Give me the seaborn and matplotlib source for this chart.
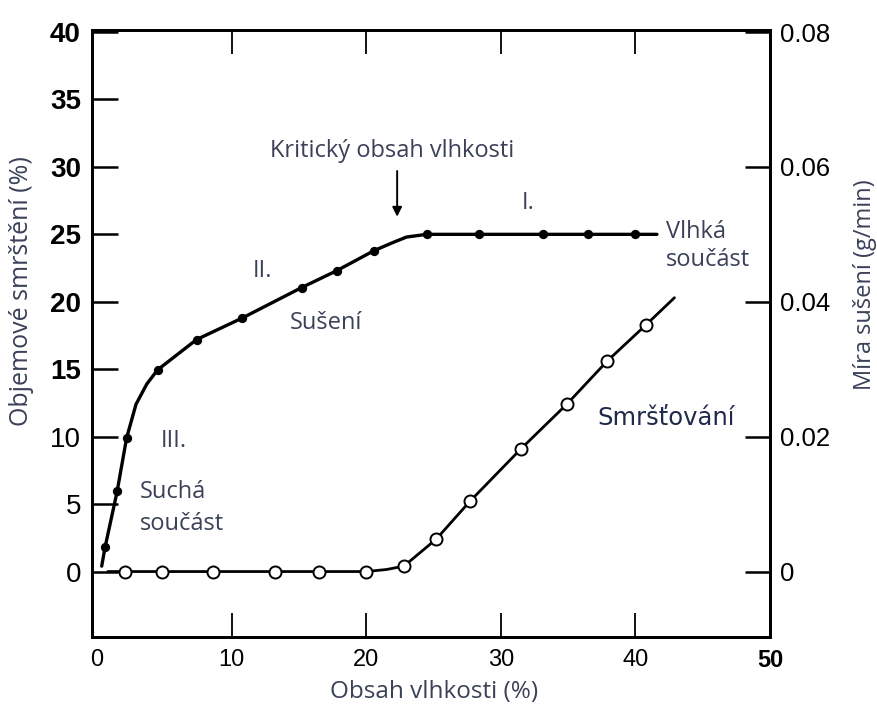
import matplotlib
matplotlib.use("Agg")
import matplotlib.pyplot as plt
import seaborn as sns
import pandas as pd

# ---- data ----
# drying rate (g/min) vs moisture content (%), filled markers
dry_x = [0.6, 1.5, 2.2, 4.5, 7.4, 10.8, 15.2, 17.8, 20.6, 24.5, 28.4, 33.1, 36.5, 40.0]
dry_rate = [0.0036, 0.0119, 0.0198, 0.0299, 0.0344, 0.0376, 0.0421, 0.0446, 0.0476, 0.0500, 0.0500, 0.0500, 0.0500, 0.0500]
# traced path of the drying-rate curve (g/min)
dry_curve_x = [0.35, 0.6, 1.5, 2.2, 2.9, 3.7, 4.5, 7.4, 10.8, 15.2, 17.8, 20.6, 22.0, 23.0, 24.5, 28.4, 33.1, 36.5, 40.0, 41.6]
dry_curve_y = [0.0008, 0.0036, 0.0119, 0.0198, 0.0248, 0.0278, 0.0299, 0.0344, 0.0376, 0.0421, 0.0446, 0.0476, 0.0488, 0.0496, 0.0500, 0.0500, 0.0500, 0.0500, 0.0500, 0.0500]

# volume shrinkage (%) vs moisture content (%), open markers
shr_x = [2.1, 4.8, 8.6, 13.2, 16.5, 20.0, 22.8, 25.2, 27.7, 31.5, 34.9, 37.9, 40.8]
shr_y = [0.0, 0.0, 0.0, 0.0, 0.0, 0.0, 0.4, 2.4, 5.2, 9.1, 12.4, 15.6, 18.3]
shr_curve_x = [0.8, 2.1, 4.8, 8.6, 13.2, 16.5, 20.0, 21.5, 22.8, 25.2, 27.7, 31.5, 34.9, 37.9, 40.8, 42.9]
shr_curve_y = [0.0, 0.0, 0.0, 0.0, 0.0, 0.0, 0.0, 0.15, 0.4, 2.4, 5.2, 9.1, 12.4, 15.6, 18.3, 20.3]

left_ticks = [0, 5, 10, 15, 20, 25, 30, 35, 40]
left_labels = ["0", "5", "10", "15", "20", "25", "30", "35", "40"]
right_ticks = [0, 0.02, 0.04, 0.06, 0.08]
right_labels = ["0", "0.02", "0.04", "0.06", "0.08"]
x_ticks = [0, 10, 20, 30, 40, 50]
x_labels = ["0", "10", "20", "30", "40", "50"]

TXT = "#3a4158"
ANN = 17

sns.set_theme(style="white")
plt.rcParams["font.family"] = ["Liberation Sans", "DejaVu Sans"]

fig = plt.figure(figsize=(8.77, 7.09), dpi=100)
ax = fig.add_axes([0.1049, 0.1016, 0.7731, 0.8561])
ax2 = ax.twinx()

YMIN, YMAX = -4.85, 40.15
ax.set_xlim(-0.37, 49.9)
ax.set_ylim(YMIN, YMAX)
ax2.set_ylim(YMIN / 500, YMAX / 500)

# shrinkage curve (left axis)
shr_line = pd.DataFrame({"x": shr_curve_x, "y": shr_curve_y})
shr_pts = pd.DataFrame({"x": shr_x, "y": shr_y})
sns.lineplot(data=shr_line, x="x", y="y", ax=ax, color="black", lw=2.0, sort=False, zorder=3)
sns.scatterplot(data=shr_pts, x="x", y="y", ax=ax, s=75, facecolor="white",
                edgecolor="black", linewidth=1.4, zorder=4)

# drying-rate curve (right axis)
dry_line = pd.DataFrame({"x": dry_curve_x, "y": dry_curve_y})
dry_pts = pd.DataFrame({"x": dry_x, "y": dry_rate})
sns.lineplot(data=dry_line, x="x", y="y", ax=ax2, color="black", lw=2.4, sort=False, zorder=3)
sns.scatterplot(data=dry_pts, x="x", y="y", ax=ax2, s=45, color="black",
                edgecolor="black", linewidth=0, zorder=4)

ax.set_xlabel("")
ax.set_ylabel("")
ax2.set_ylabel("")

for a in (ax, ax2):
    for s in a.spines.values():
        s.set_color("black")
        s.set_linewidth(2.0)
    a.grid(False)

ax.set_xticks(x_ticks)
ax.set_xticklabels(x_labels)
ax.set_yticks(left_ticks)
ax.set_yticklabels(left_labels)
ax.tick_params(axis="x", direction="in", length=17, width=1.3, top=True, bottom=True,
               labelsize=17, pad=9, colors="black")
ax.tick_params(axis="y", direction="in", length=19, width=1.8, left=True, right=False,
               labelsize=20, pad=8, colors="black")
ax2.set_yticks(right_ticks)
ax2.set_yticklabels(right_labels)
ax2.tick_params(axis="y", direction="in", length=18, width=1.8, right=True, left=False,
                labelsize=18.5, pad=7, colors="black")

# the x = 0 and x = 50 positions sit on the frame: no tick marks there
for t in (ax.xaxis.get_major_ticks()[0], ax.xaxis.get_major_ticks()[-1]):
    t.tick1line.set_visible(False)
    t.tick2line.set_visible(False)

for lab in ax.get_yticklabels():
    if lab.get_text() in ("15", "20", "25", "30", "35", "40"):
        lab.set_fontweight("bold")
for lab in ax.get_xticklabels():
    if lab.get_text() == "50":
        lab.set_fontweight("bold")

fig.text(0.495, 0.024, "Obsah vlhkosti (%)", ha="center", va="center",
         fontsize=17.5, color=TXT, family="Open Sans")
fig.text(0.024, 0.59, "Objemové smrštění (%)", ha="center", va="center",
         rotation=90, fontsize=18, color=TXT, family="Open Sans")
fig.text(0.986, 0.598, "Míra sušení (g/min)", ha="center", va="center",
         rotation=90, fontsize=17, color=TXT, family="Open Sans")

# annotations
ax.annotate("", xy=(22.3, 26.1), xytext=(22.3, 29.9),
            arrowprops=dict(arrowstyle="-|>", color="black", lw=1.4, mutation_scale=14))
ax.text(21.9, 31.2, "Kritický obsah vlhkosti", ha="center", va="center",
        fontsize=ANN, color=TXT, family="Open Sans")
ax.text(32.0, 27.3, "I.", ha="center", va="center", fontsize=ANN, color=TXT, family="Open Sans")
ax.text(12.3, 22.3, "II.", ha="center", va="center", fontsize=ANN, color=TXT, family="Open Sans")
ax.text(17.0, 18.4, "Sušení", ha="center", va="center", fontsize=ANN, color=TXT, family="Open Sans")
ax.text(5.7, 9.7, "III.", ha="center", va="center", fontsize=ANN, color=TXT, family="Open Sans")
ax.text(3.2, 5.9, "Suchá", ha="left", va="center", fontsize=ANN, color=TXT, family="Open Sans")
ax.text(3.2, 3.5, "součást", ha="left", va="center", fontsize=ANN, color=TXT, family="Open Sans")
ax.text(42.3, 25.2, "Vlhká", ha="left", va="center", fontsize=ANN, color=TXT, family="Open Sans")
ax.text(42.3, 23.1, "součást", ha="left", va="center", fontsize=ANN, color=TXT, family="Open Sans")
ax.text(37.2, 11.4, "Smršťování", ha="left", va="center", fontsize=17.5, color="#1f2a4a",
        family="DejaVu Sans")

fig.savefig("out.png", dpi=100)
